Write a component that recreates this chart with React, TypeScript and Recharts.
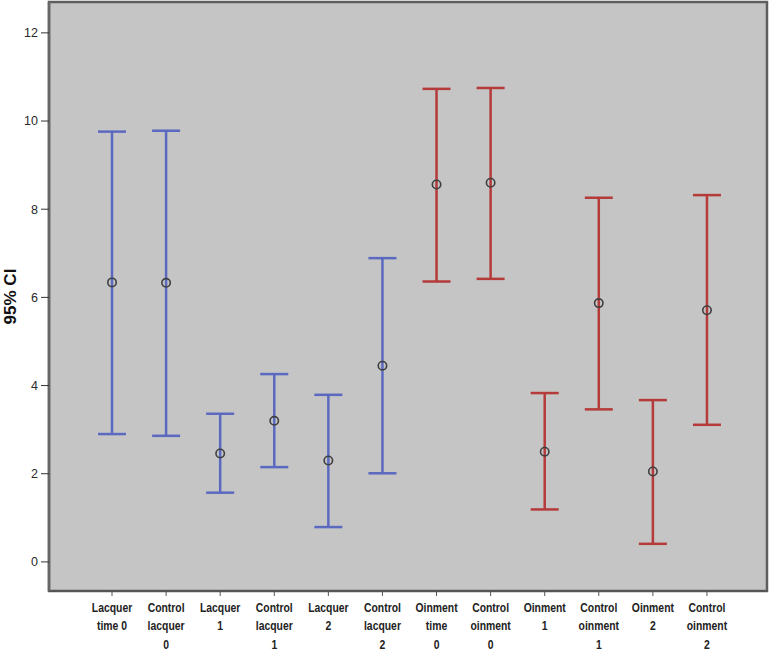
import {
  ComposedChart,
  Scatter,
  ErrorBar,
  XAxis,
  YAxis,
  ReferenceArea,
} from 'recharts';

const categories = [
  'Lacquer\ntime 0',
  'Control\nlacquer\n0',
  'Lacquer\n1',
  'Control\nlacquer\n1',
  'Lacquer\n2',
  'Control\nlacquer\n2',
  'Oinment\ntime\n0',
  'Control\noinment\n0',
  'Oinment\n1',
  'Control\noinment\n1',
  'Oinment\n2',
  'Control\noinment\n2',
];

const means = [6.34, 6.33, 2.46, 3.2, 2.3, 4.45, 8.56, 8.6, 2.5, 5.87, 2.05, 5.71];
const lowers = [2.9, 2.86, 1.57, 2.15, 0.79, 2.01, 6.36, 6.42, 1.19, 3.46, 0.41, 3.11];
const uppers = [9.76, 9.78, 3.36, 4.26, 3.79, 6.89, 10.73, 10.75, 3.83, 8.26, 3.67, 8.32];

const yTicks = [0, 2, 4, 6, 8, 10, 12];
const xTicks = categories.map((_, i) => i);

const X_DOMAIN: [number, number] = [-1.165, 12.11];
const Y_DOMAIN: [number, number] = [-0.66, 12.7];

const rows = categories.map((name, i) => ({
  x: i,
  y: means[i],
  name,
  err: [means[i] - lowers[i], uppers[i] - means[i]],
}));

const lacquer = rows.slice(0, 6);
const ointment = rows.slice(6);

const BLUE = '#5b69c0';
const RED = '#b53a3a';

function MeanDot(props: any) {
  const { cx, cy } = props;
  if (cx == null || cy == null) return null;
  return <circle cx={cx} cy={cy} r={4.2} fill="none" stroke="#3f3f3f" strokeWidth={1.6} />;
}

// the original uses a condensed bold face, so squeeze Liberation Sans horizontally
function CategoryTick(props: any) {
  const { x, y, payload } = props;
  const lines = categories[payload.value].split('\n');
  return (
    <g transform={`translate(${x},${y}) scale(0.8,1)`}>
      <text
        x={0}
        y={0}
        textAnchor="middle"
        fill="#222"
        fontSize={13}
        fontWeight="bold"
        fontFamily="'Liberation Sans', Arial, sans-serif"
      >
        {lines.map((l, i) => (
          <tspan key={i} x={0} dy={i === 0 ? 14 : 18.5}>
            {l}
          </tspan>
        ))}
      </text>
    </g>
  );
}

export default function App() {
  return (
    <div style={{ position: 'absolute', left: 0, top: 0, width: 771, height: 654, background: '#fff' }}>
      <ComposedChart
        width={771}
        height={654}
        margin={{ top: 2, right: 4, left: 0, bottom: 0 }}
      >
        <ReferenceArea
          x1={X_DOMAIN[0]}
          x2={X_DOMAIN[1]}
          y1={Y_DOMAIN[0]}
          y2={Y_DOMAIN[1]}
          fill="#c4c5c4"
          fillOpacity={1}
          stroke="#5e5e5e"
          strokeWidth={2.5}
          ifOverflow="visible"
        />
        <ReferenceArea
          x1={X_DOMAIN[1]}
          x2={X_DOMAIN[1]}
          y1={Y_DOMAIN[0]}
          y2={Y_DOMAIN[1]}
          fill="none"
          stroke="#777"
          strokeWidth={4}
          ifOverflow="visible"
        />
        <XAxis
          type="number"
          dataKey="x"
          domain={X_DOMAIN}
          ticks={xTicks}
          interval={0}
          allowDataOverflow
          height={63}
          tickSize={5}
          tickLine={{ stroke: '#555' }}
          axisLine={{ stroke: '#555', strokeWidth: 2 }}
          tick={<CategoryTick />}
        />
        <YAxis
          type="number"
          dataKey="y"
          domain={Y_DOMAIN}
          ticks={yTicks}
          allowDataOverflow
          width={49}
          tickSize={8}
          tickMargin={3}
          tickLine={{ stroke: '#333' }}
          axisLine={{ stroke: '#666', strokeWidth: 2.5 }}
          tick={{ fill: '#2a2a2a', fontSize: 12.5, fontFamily: "'Liberation Sans', Arial, sans-serif" }}
          label={{
            value: '95% CI',
            angle: -90,
            position: 'center',
            dx: -15,
            style: {
              fontSize: 17,
              fontWeight: 'bold',
              fill: '#111',
              fontFamily: "'Liberation Sans', Arial, sans-serif",
            },
          }}
        />
        <Scatter data={lacquer} isAnimationActive={false} shape={<MeanDot />}>
          <ErrorBar dataKey="err" direction="y" width={14} stroke={BLUE} strokeWidth={2.5} />
        </Scatter>
        <Scatter data={ointment} isAnimationActive={false} shape={<MeanDot />}>
          <ErrorBar dataKey="err" direction="y" width={14} stroke={RED} strokeWidth={2.5} />
        </Scatter>
      </ComposedChart>
    </div>
  );
}
